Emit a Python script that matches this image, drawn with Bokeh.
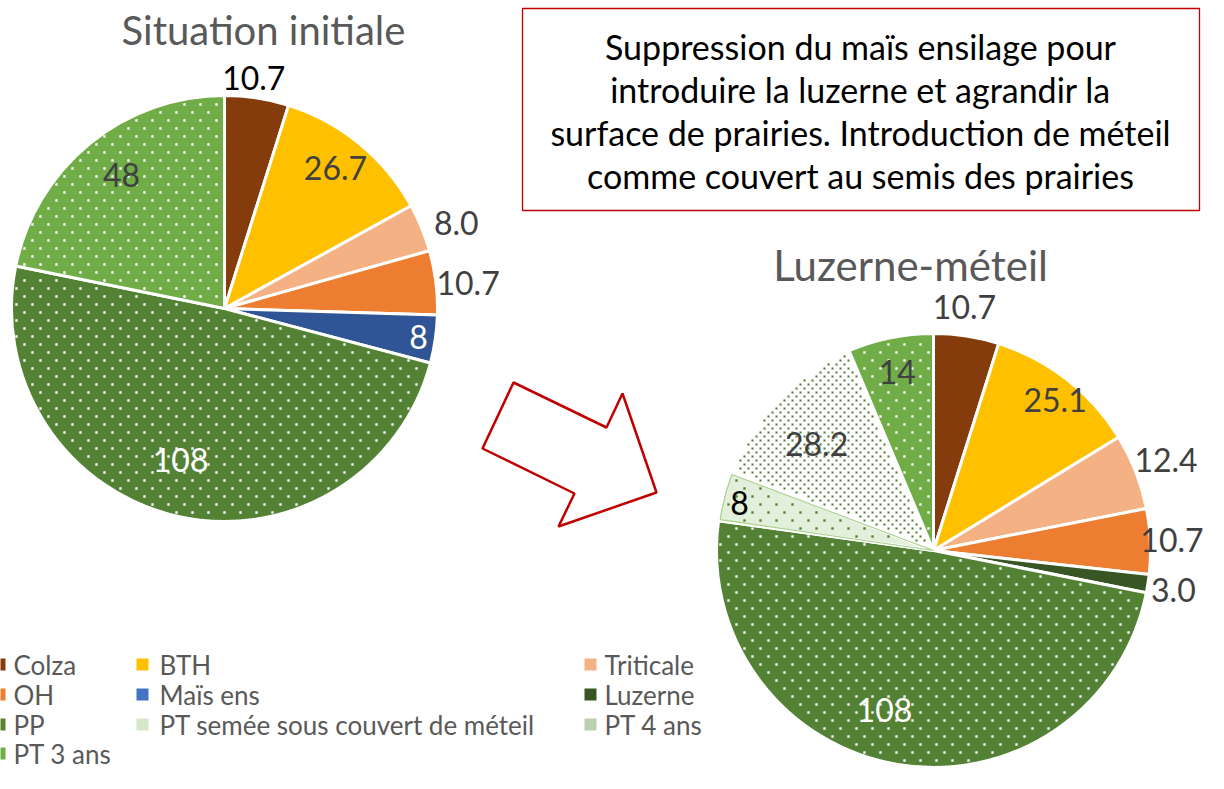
import numpy as np
import pandas as pd
from bokeh.plotting import figure
from bokeh.models import ColumnDataSource
from bokeh.core.properties import value
from bokeh.embed import file_html
from bokeh.resources import INLINE

# ---------------- data ----------------
categories = ["Colza", "BTH", "Triticale", "OH", "Maïs ens", "Luzerne", "PP",
              "PT semée sous couvert de méteil", "PT 4 ans", "PT 3 ans"]

initial_cats = ["Colza", "BTH", "Triticale", "OH", "Maïs ens", "PP", "PT 3 ans"]
initial_vals = [10.7, 26.7, 8.0, 10.7, 8, 108, 48]
initial_labels = ["10.7", "26.7", "8.0", "10.7", "8", "108", "48"]

luz_cats = ["Colza", "BTH", "Triticale", "OH", "Luzerne", "PP",
            "PT semée sous couvert de méteil", "PT 4 ans", "PT 3 ans"]
luz_vals = [10.7, 25.1, 12.4, 10.7, 3.0, 108, 8, 28.2, 14]
luz_labels = ["10.7", "25.1", "12.4", "10.7", "3.0", "108", "8", "28.2", "14"]

title_initial = "Situation initiale"
title_luz = "Luzerne-méteil"
box_lines = ["Suppression du maïs ensilage pour",
             "introduire la luzerne et agrandir la",
             "surface de prairies. Introduction de méteil",
             "comme couvert au semis des prairies"]

# ---------------- styles ----------------
FILL = {"Colza": "#843C0C", "BTH": "#FFC000", "Triticale": "#F4B183", "OH": "#ED7D31",
        "Maïs ens": "#2F5597", "Luzerne": "#375623", "PP": "#548235",
        "PT semée sous couvert de méteil": "#E2EFDA", "PT 4 ans": "#FFFFFF",
        "PT 3 ans": "#70AD47"}
LEG_FILL = dict(FILL, **{"Maïs ens": "#4472C4", "PT 4 ans": "#BCCFB0",
                         "PT semée sous couvert de méteil": "#D5E6C9"})
# dotted texture: (dot color, horizontal spacing, row spacing, dot size)
TEXTURE = {"PP": ("white", 16, 8, 2.4),
           "PT semée sous couvert de méteil": ("#548235", 16, 8, 2.4),
           "PT 4 ans": ("#548235", 8, 4, 2.1),
           "PT 3 ans": ("white", 16, 8, 2.4)}

W, H = 1208, 773
FONT = "Lato"


def yy(v):
    return 789 - v


p = figure(width=W, height=H, x_range=(0, 1208), y_range=(16, 789),
           output_backend="svg", toolbar_location=None, min_border=0)
p.axis.visible = False
p.grid.visible = False
p.outline_line_color = None
p.background_fill_color = "white"
p.border_fill_color = "white"


def texture_points(cx, cyd, r, a0, a1, dx, dy, margin=3.0):
    rows = np.arange(np.floor((789 - cyd - r) / dy), np.ceil((789 - cyd + r) / dy) + 1)
    xs, ys = [], []
    for j in rows:
        off = (dx / 2) * (int(j) % 2)
        cols = np.arange(np.floor((cx - r) / dx) - 1, np.ceil((cx + r) / dx) + 1)
        xs.append(cols * dx + off)
        ys.append(np.full(len(cols), 789 - j * dy))
    xs = np.concatenate(xs)
    ys = np.concatenate(ys)
    rx, ry = xs - cx, ys - cyd
    d = np.hypot(rx, ry)
    th = np.arctan2(ry, rx)
    t = np.mod(th - a0, 2 * np.pi)
    span = a1 - a0
    ok = (d < r - margin) & (t < span) & (d * np.sin(t) > margin) & \
         (d * np.sin(span - t) > margin)
    return xs[ok], ys[ok]


def draw_pie(cats, vals, labels, cx, cy, r, rfac, aoff, lcolors):
    v = np.array(vals, dtype=float)
    tot = v.sum()
    cum = np.concatenate([[0], np.cumsum(v)])
    start = np.pi / 2 - cum[1:] / tot * 2 * np.pi
    end = np.pi / 2 - cum[:-1] / tot * 2 * np.pi
    df = pd.DataFrame(dict(cat=cats, start=start, end=end))
    df["fill"] = [FILL[c] for c in cats]
    df["x"] = cx
    df["y"] = yy(cy)
    src = ColumnDataSource(df)
    p.wedge(x="x", y="y", radius=r, start_angle="start", end_angle="end",
            fill_color="fill", line_color="white", line_width=3, source=src)
    for i, c in enumerate(cats):
        if c == "PT semée sous couvert de méteil":
            p.wedge(x=[cx], y=[yy(cy)], radius=r - 1.5, start_angle=[start[i] + 0.006],
                    end_angle=[end[i] - 0.006], fill_color=None,
                    line_color="#A9D18E", line_width=1.2)
        if c in TEXTURE:
            col, dx, dy, sz = TEXTURE[c]
            tx, ty = texture_points(cx, yy(cy), r, start[i], end[i], dx, dy)
            p.scatter(x=tx, y=ty, marker="square", size=sz, fill_color=col,
                      line_color=None)
    mid = (start + end) / 2 + np.radians(aoff)
    lx = cx + np.array(rfac) * r * np.cos(mid)
    ly = yy(cy) + np.array(rfac) * r * np.sin(mid)
    p.text(x=lx, y=ly, text=labels, text_align="center", text_baseline="middle",
           text_font=value(FONT), text_font_size="32px", text_color=lcolors)


draw_pie(initial_cats, initial_vals, initial_labels, 224, 308, 213,
         [1.09, 0.84, 1.16, 1.15, 0.92, 0.74, 0.79],
         [1.5, 1, -2, -1, 0, -3, -1.5],
         ["#000000", "#404040", "#404040", "#404040", "#FFFFFF", "#FFFFFF", "#404040"])

draw_pie(luz_cats, luz_vals, luz_labels, 933, 550, 217,
         [1.13, 0.89, 1.15, 1.10, 1.12, 0.77, 0.92, 0.73, 0.84],
         [1.5, -1, 0, 0, -0.5, -7.5, 0.7, 1.6, 0],
         ["#404040", "#404040", "#404040", "#404040", "#404040", "#FFFFFF", "#000000",
          "#404040", "#404040"])

# titles
p.text(x=[263], y=[yy(29)], text=[title_initial], text_align="center",
       text_baseline="middle", text_font=value(FONT), text_font_size="40px",
       text_color="#595959")
p.text(x=[910], y=[yy(264)], text=[title_luz], text_align="center",
       text_baseline="middle", text_font=value(FONT), text_font_size="42px",
       text_color="#595959")

# text box
p.quad(left=[522], right=[1199], top=[yy(8)], bottom=[yy(210)], fill_color="white",
       line_color="#C00000", line_width=1.3)
p.text(x=[860] * 4, y=[yy(46), yy(89), yy(132), yy(175)], text=box_lines,
       text_align="center", text_baseline="middle", text_font=value(FONT),
       text_font_size="34px", text_color="#000000")

# arrow
ax = [513, 606, 622, 656, 558, 574, 482]
ay = [382, 427, 393, 492, 526, 493, 448]
p.patch(x=ax, y=[yy(v) for v in ay], fill_color="white", line_color="#C00000", line_width=2.5)

# legend
sq_x = [-1, 142, 590]
tx_x = [13, 159, 604]
row_y = [664, 694, 724, 753]
for i, c in enumerate(categories):
    r_, k = divmod(i, 3)
    src = ColumnDataSource(dict(x=[sq_x[k]], y=[yy(row_y[r_])], t=[c], tx=[tx_x[k]]))
    p.rect(x="x", y="y", width=12, height=12, source=src, fill_color=LEG_FILL[c],
           line_color=None)
    p.text(x="tx", y="y", text="t", source=src, text_align="left", text_baseline="middle",
           text_font=value(FONT), text_font_size="26px", text_color="#595959")

open("out.html", "w").write(file_html(p, INLINE))
